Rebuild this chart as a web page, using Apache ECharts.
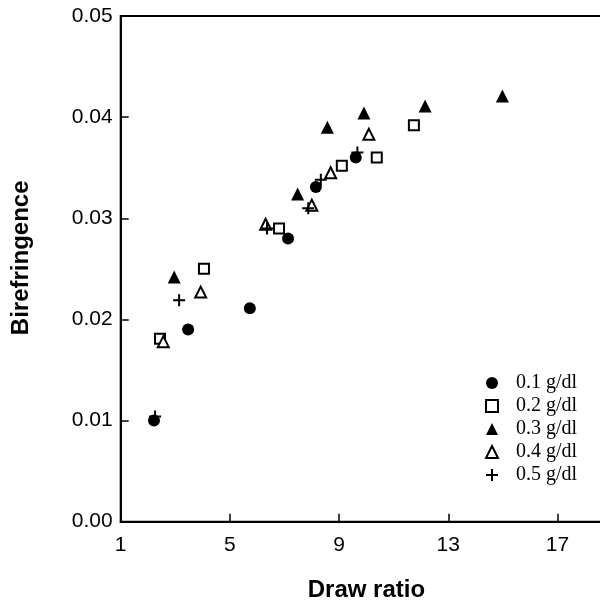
<!DOCTYPE html>
<html>
<head>
<meta charset="utf-8">
<script src="https://cdn.jsdelivr.net/npm/echarts@6/dist/echarts.min.js"></script>
<style>
  html, body { margin: 0; padding: 0; background: #fff; }
  #main { width: 600px; height: 601px; }
</style>
</head>
<body>
<div id="main"></div>
<script>
// Draw ratio (x) and birefringence (y), one pair of arrays per concentration
const seriesNames = ['0.1 g/dl', '0.2 g/dl', '0.3 g/dl', '0.4 g/dl', '0.5 g/dl']

const x01 = [2.22, 3.47, 5.73, 7.13, 8.15, 9.61]
const y01 = [0.0100, 0.0190, 0.0211, 0.0280, 0.0331, 0.0360]

const x02 = [2.44, 4.05, 6.80, 9.10, 10.38, 11.74]
const y02 = [0.0181, 0.0250, 0.0290, 0.0352, 0.0360, 0.0392]

const x03 = [2.96, 7.48, 8.57, 9.91, 12.15, 14.98]
const y03 = [0.0242, 0.0324, 0.0390, 0.0404, 0.0411, 0.0421]

const x04 = [2.56, 3.93, 6.31, 8.00, 8.69, 10.09]
const y04 = [0.0178, 0.0227, 0.0294, 0.0313, 0.0345, 0.0383]

const x05 = [2.26, 3.14, 6.36, 7.87, 8.33, 9.67]
const y05 = [0.0104, 0.0219, 0.0290, 0.0310, 0.0338, 0.0365]

const xTicks = [1, 5, 9, 13, 17]

const plusPath = 'path://M0,6 L12,6 M6,0 L6,12'
const symbols = ['circle', 'emptyRect', 'triangle', 'emptyTriangle', plusPath]
const sizes = [12, 10, 13, 11, 12]

const pairs = (xs, ys) => xs.map((x, i) => [x, ys[i]])
const allData = [pairs(x01, y01), pairs(x02, y02), pairs(x03, y03), pairs(x04, y04), pairs(x05, y05)]

const myChart = echarts.init(document.getElementById('main'))

myChart.setOption({
	animation: false,
	backgroundColor: '#fff',
	grid: {
		left: 120.7,
		width: 491.4, // plot runs on past the right edge of the picture
		top: 16,
		bottom: 79.3,
		outerBoundsMode: 'none',
		containLabel: false,
		show: true,
		borderColor: '#000',
		borderWidth: 2,
		backgroundColor: 'transparent'
	},
	legend: {
		orient: 'vertical',
		left: 480,
		top: 368,
		itemWidth: 12,
		itemHeight: 12,
		itemGap: 3,
		data: seriesNames.map((n, i) => ({ name: n, icon: symbols[i] })),
		textStyle: {
			fontFamily: 'Liberation Serif',
			fontSize: 20,
			color: '#000',
			padding: [0, 0, 0, 13]
		}
	},
	xAxis: {
		type: 'value',
		min: 1,
		max: 19,
		interval: 4,
		name: 'Draw ratio',
		nameLocation: 'middle',
		nameGap: 57,
		nameTextStyle: {
			fontFamily: 'Liberation Sans',
			fontWeight: 'bold',
			fontSize: 24,
			color: '#000',
			verticalAlign: 'top'
		},
		axisLine: { lineStyle: { color: '#000', width: 2 } },
		axisTick: { inside: true, length: 8, customValues: xTicks, lineStyle: { color: '#000', width: 1.5 } },
		axisLabel: {
			margin: 13,
			fontFamily: 'Liberation Sans',
			fontSize: 21,
			color: '#000',
			customValues: xTicks
		},
		splitLine: { show: false }
	},
	yAxis: {
		type: 'value',
		min: 0,
		max: 0.05,
		interval: 0.01,
		name: 'Birefringence',
		nameLocation: 'middle',
		nameGap: 87,
		nameTextStyle: {
			fontFamily: 'Liberation Sans',
			fontWeight: 'bold',
			fontSize: 24,
			color: '#000',
			padding: [0, 0, 0, 22]
		},
		axisLine: { lineStyle: { color: '#000', width: 2 } },
		axisTick: { inside: true, length: 8, lineStyle: { color: '#000', width: 1.5 } },
		axisLabel: {
			margin: 8,
			fontFamily: 'Liberation Sans',
			fontSize: 21,
			color: '#000',
			formatter: v => v.toFixed(2)
		},
		splitLine: { show: false }
	},
	series: seriesNames.map((n, i) => ({
		name: n,
		type: 'scatter',
		symbol: symbols[i],
		symbolSize: sizes[i],
		itemStyle: {
			opacity: 1,
			color: '#000',
			borderColor: '#000',
			borderWidth: (i === 0 || i === 2) ? 0 : 2
		},
		data: allData[i]
	}))
})
</script>
</body>
</html>
